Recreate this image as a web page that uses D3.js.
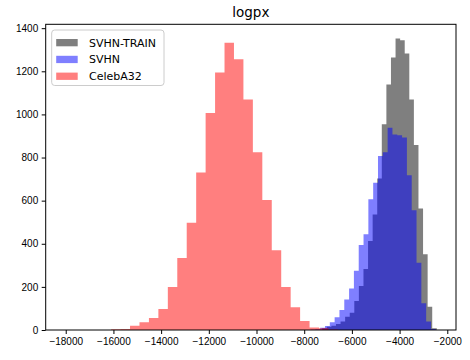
<!DOCTYPE html>
<html>
<head>
<meta charset="utf-8">
<script src="https://cdn.jsdelivr.net/npm/d3@7"></script>
<style>
	body { margin: 0; background: white; }
	svg { display: block; font-family: "DejaVu Sans", sans-serif; }
</style>
</head>
<body>
<svg></svg>
<script>
// histogram bins: first bin edge, bin width, counts
const trainStart = -7245;
const trainWidth = 192.2;
const trainCounts = [8, 15, 20, 28, 39, 62, 80, 134, 204, 283, 413, 536, 703, 954, 1139, 1264, 1352, 1344, 1283, 1069, 858, 564, 351, 108, 8];

const svhnStart = -7734;
const svhnWidth = 202;
const svhnCounts = [2, 5, 10, 19, 36, 59, 93, 142, 193, 275, 394, 444, 607, 683, 807, 824, 938, 907, 903, 893, 718, 556, 312, 124, 39, 5];

const celebStart = -16096;
const celebWidth = 396.2;
const celebCounts = [4, 5, 20, 36, 56, 97, 199, 334, 498, 731, 1007, 1195, 1332, 1256, 1069, 824, 603, 370, 199, 105, 42, 12, 8, 2];

const seriesNames = ["SVHN-TRAIN", "SVHN", "CelebA32"];
const seriesColors = ["black", "blue", "red"];
const xTicks = [-18000, -16000, -14000, -12000, -10000, -8000, -6000, -4000, -2000];
const yTicks = [0, 200, 400, 600, 800, 1000, 1200, 1400];
const xDomain = [-18840, -1635];
const yDomain = [0, 1418];

function toBins(start, width, counts) {
	return counts.map((c, i) => ({ x0: start + i * width, x1: start + (i + 1) * width, count: c }));
}

function drawChart() {
	const width = 470;
	const height = 360;
	const left = 45.7, right = 456, top = 24.3, bottom = 330;
	const font = "DejaVu Sans, sans-serif";

	let series = [
		toBins(trainStart, trainWidth, trainCounts),
		toBins(svhnStart, svhnWidth, svhnCounts),
		toBins(celebStart, celebWidth, celebCounts)
	];

	let xScale = d3.scaleLinear()
		.domain(xDomain)
		.range([left, right]);

	let yScale = d3.scaleLinear()
		.domain(yDomain)
		.range([bottom, top]);

	let svg = d3.select("svg")
		.attr("width", width)
		.attr("height", height);

	// one step outline per histogram, so neighbouring bars leave no seams
	function stepPath(bins) {
		let path = d3.path();
		path.moveTo(xScale(bins[0].x0), yScale(0));
		bins.forEach((d) => {
			path.lineTo(xScale(d.x0), yScale(d.count));
			path.lineTo(xScale(d.x1), yScale(d.count));
		});
		path.lineTo(xScale(bins[bins.length - 1].x1), yScale(0));
		path.closePath();
		return path.toString();
	}

	svg.selectAll(".hist")
		.data(series)
		.enter()
		.append("path")
			.classed("hist", true)
			.attr("d", stepPath)
			.attr("fill", (d, i) => seriesColors[i])
			.attr("fill-opacity", 0.5);

	let xAxis = d3.axisBottom(xScale)
		.tickValues(xTicks)
		.tickSize(4)
		.tickPadding(3.5)
		.tickSizeOuter(0)
		.tickFormat((d) => d < 0 ? "\u2212" + Math.abs(d) : d);

	let yAxis = d3.axisLeft(yScale)
		.tickValues(yTicks)
		.tickSize(4)
		.tickPadding(3.5)
		.tickSizeOuter(0)
		.tickFormat(d3.format("d"));

	svg.append("g")
		.attr("transform", `translate(0, ${bottom})`)
		.attr("font-family", font)
		.attr("font-size", 11)
		.call(xAxis)
		.call((g) => g.select(".domain").remove())
		.selectAll("text")
			.attr("fill", "#000");

	svg.append("g")
		.attr("transform", `translate(${left}, 0)`)
		.attr("font-family", font)
		.attr("font-size", 11)
		.call(yAxis)
		.call((g) => g.select(".domain").remove())
		.selectAll("text")
			.attr("fill", "#000");

	// frame
	svg.append("rect")
		.attr("x", left)
		.attr("y", top)
		.attr("width", right - left)
		.attr("height", bottom - top)
		.attr("fill", "none")
		.attr("stroke", "#000")
		.attr("stroke-width", 1);

	svg.append("text")
		.attr("x", (left + right) / 2)
		.attr("y", 16.7)
		.attr("text-anchor", "middle")
		.style("font-size", "13.5px")
		.text("logpx");

	// legend
	let legend = svg.append("g")
		.attr("transform", "translate(51.7, 30)");

	legend.append("rect")
		.attr("width", 112.3)
		.attr("height", 55.5)
		.attr("rx", 3)
		.attr("fill", "white")
		.attr("fill-opacity", 0.8)
		.attr("stroke", "#cccccc")
		.attr("stroke-width", 1);

	let items = legend.selectAll(".item")
		.data(seriesNames)
		.enter()
		.append("g")
			.classed("item", true)
			.attr("transform", (d, i) => `translate(0, ${9 + 16.8 * i})`);

	items.append("rect")
		.attr("x", 4.5)
		.attr("y", 0)
		.attr("width", 21.5)
		.attr("height", 7.3)
		.attr("fill", (d, i) => seriesColors[i])
		.attr("fill-opacity", 0.5);

	items.append("text")
		.attr("x", 37.3)
		.attr("y", 3.7)
		.attr("dy", "0.35em")
		.style("font-size", "11px")
		.text((d) => d);
}

document.addEventListener("DOMContentLoaded", drawChart);
</script>
</body>
</html>
